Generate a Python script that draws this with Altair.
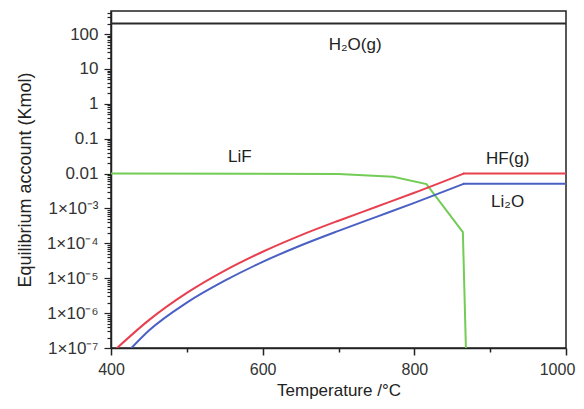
import altair as alt
import pandas as pd

# ---- data ----
h2o_T = [400, 1000]
h2o_v = [200, 200]

# rising parts (smooth) and plateau parts of HF(g) and Li2O
hf_T = [408, 450, 500, 550, 600, 650, 700, 750, 800, 865]
hf_v = [1e-7, 6.3e-7, 3.8e-6, 1.66e-5, 5.75e-5, 1.7e-4, 4.47e-4, 1.12e-3, 2.82e-3, 0.0100]
hf_flat_T = [865, 1000]
hf_flat_v = [0.0100, 0.0100]

li2o_T = [427, 450, 500, 550, 600, 650, 700, 750, 800, 865]
li2o_v = [1e-7, 3.16e-7, 2.0e-6, 8.5e-6, 2.95e-5, 8.7e-5, 2.29e-4, 5.75e-4, 1.45e-3, 0.0051]
li2o_flat_T = [865, 1000]
li2o_flat_v = [0.0051, 0.0051]

lif_T = [400, 700, 772, 816, 864, 868]
lif_v = [0.0100, 0.0098, 0.0081, 0.0050, 2.1e-4, 1e-7]

series_names = ["H2O", "HF", "Li2O", "LiF"]
series_colors = ["#2b2b2b", "#e8404f", "#4a60c4", "#72cc55"]

label_text = ["H₂O(g)", "LiF", "HF(g)", "Li₂O"]
label_T = [722, 570, 923, 923]
label_v = [48, 0.03, 0.026, 0.0015]

x_ticks = [400, 500, 600, 700, 800, 900, 1000]
y_ticks = [m * 10.0 ** e for e in range(-7, 3) for m in range(1, 10) if m * 10.0 ** e <= 460]

FONT = "Liberation Sans"

xscale = alt.Scale(domain=[400, 1000], nice=False, zero=False)
yscale = alt.Scale(type="log", domain=[1e-7, 460], nice=False)
cscale = alt.Scale(domain=series_names, range=series_colors)

major_y = "abs(log(datum.value)/LN10 - round(log(datum.value)/LN10)) < 0.01"
y_label_expr = (
    f"!({major_y}) ? '' : datum.value >= 1 ? format(datum.value, 'd') : "
    "datum.value >= 0.01 ? format(datum.value, '.2~f') : "
    "'1×10' + ['⁻³','⁻⁴','⁻⁵','⁻⁶','⁻⁷'][-round(log(datum.value)/LN10)-3]"
)

xaxis = alt.Axis(
    values=x_ticks,
    labelExpr="datum.value % 200 == 0 ? format(datum.value, 'd') : ''",
    title="Temperature /°C",
    grid=False,
    tickSize={"condition": {"test": "datum.value % 200 == 0", "value": 7}, "value": 4},
    labelOffset={"condition": {"test": "datum.value == 1000", "value": -9}, "value": 0},
    labelPadding=6,
    titlePadding=5,
    labelFontSize=16,
    titleFontSize=17,
    titleFontWeight="normal",
    labelFont=FONT,
    titleFont=FONT,
    labelColor="#333333",
    titleColor="#222222",
    domainColor="#222222",
    tickColor="#222222",
    domainWidth=1.5,
    tickWidth=1.5,
    labelOverlap=False,
    labelFlush=False,
)
yaxis = alt.Axis(
    values=y_ticks,
    labelExpr=y_label_expr,
    title="Equilibrium account (Kmol)",
    grid=False,
    tickSize={"condition": {"test": major_y, "value": 7}, "value": 4},
    labelPadding=6,
    titlePadding=12,
    labelFontSize=17,
    titleFontSize=18,
    titleFontWeight="normal",
    labelFont=FONT,
    titleFont=FONT,
    labelColor="#333333",
    titleColor="#222222",
    domainColor="#222222",
    tickColor="#222222",
    domainWidth=1.5,
    tickWidth=1.2,
    labelOverlap=False,
    labelFlush=False,
)


def series_df(name, part, T, V):
    return pd.DataFrame({"series": name, "part": part, "T": T, "v": V, "order": list(range(len(T)))})


smooth_df = pd.concat([
    series_df("HF", "rise", hf_T, hf_v),
    series_df("Li2O", "rise", li2o_T, li2o_v),
])
straight_df = pd.concat([
    series_df("H2O", "all", h2o_T, h2o_v),
    series_df("HF", "flat", hf_flat_T, hf_flat_v),
    series_df("Li2O", "flat", li2o_flat_T, li2o_flat_v),
    series_df("LiF", "all", lif_T, lif_v),
])
lab = pd.DataFrame({"text": label_text, "T": label_T, "v": label_v})

base_enc = dict(
    x=alt.X("T:Q", scale=xscale, axis=xaxis),
    y=alt.Y("v:Q", scale=yscale, axis=yaxis),
    color=alt.Color("series:N", scale=cscale, legend=None),
    detail="part:N",
    order="order:Q",
)

straight = alt.Chart(straight_df).mark_line(strokeWidth=2, clip=True, strokeCap="round").encode(**base_enc)
smooth = alt.Chart(smooth_df).mark_line(strokeWidth=2, clip=True, interpolate="monotone", strokeCap="round").encode(**base_enc)

texts = alt.Chart(lab).mark_text(fontSize=17, font=FONT, color="#222222").encode(
    x=alt.X("T:Q", scale=xscale),
    y=alt.Y("v:Q", scale=yscale),
    text="text:N",
)

chart = (
    alt.layer(straight, smooth, texts)
    .properties(
        width=455,
        height=337,
        autosize=alt.AutoSizeParams(type="none"),
        padding={"left": 103, "top": 3, "right": 10, "bottom": 53},
        background="white",
    )
    .configure_view(stroke="#222222", strokeWidth=1.5)
)

chart.save("out.html", embed_options={"renderer": "svg", "actions": False})
